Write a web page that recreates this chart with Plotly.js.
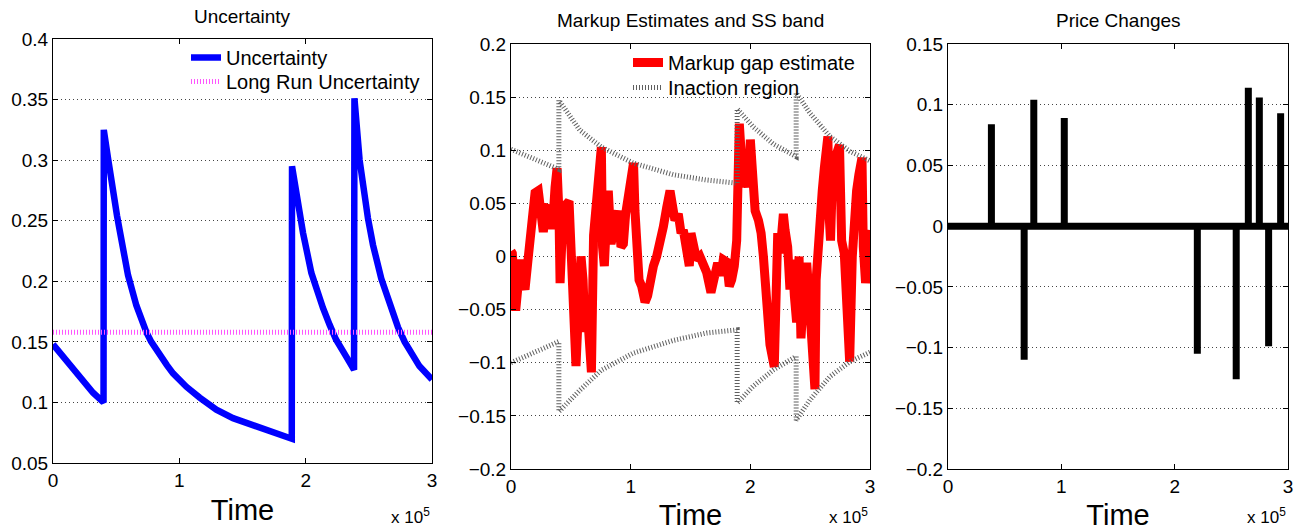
<!DOCTYPE html>
<html>
<head>
<meta charset="utf-8">
<script src="https://cdn.plot.ly/plotly-3.0.1.min.js"></script>
<style>html,body{margin:0;padding:0;background:#fff;}#chart{width:1304px;height:531px;}</style>
</head>
<body>
<div id="chart"></div>
<script>
// ---------------- data (time in units of 10^5) ----------------
const uncT = [0, 0.106, 0.211, 0.317, 0.400, 0.402, 0.438, 0.475, 0.507, 0.528, 0.567, 0.594, 0.660, 0.712, 0.739, 0.778, 0.844, 0.900, 0.950, 1.055, 1.161, 1.293, 1.425, 1.557, 1.689, 1.821, 1.890, 1.892, 1.926, 1.979, 2.045, 2.084, 2.137, 2.190, 2.240, 2.320, 2.383, 2.386, 2.427, 2.493, 2.533, 2.599, 2.652, 2.731, 2.784, 2.900, 3.0];
const uncV = [0.148, 0.134, 0.120, 0.108, 0.100, 0.325, 0.300, 0.272, 0.254, 0.242, 0.220, 0.205, 0.180, 0.165, 0.158, 0.150, 0.139, 0.131, 0.124, 0.113, 0.104, 0.094, 0.087, 0.082, 0.077, 0.0725, 0.070, 0.295, 0.272, 0.240, 0.207, 0.193, 0.178, 0.164, 0.152, 0.138, 0.127, 0.351, 0.300, 0.252, 0.230, 0.202, 0.185, 0.162, 0.150, 0.130, 0.119];
const longRunT = [0, 3];
const longRunV = [0.158, 0.158];

const markT = [0.000,0.011,0.028,0.039,0.056,0.067,0.084,0.100,0.117,0.145,0.167,0.180,0.201,0.228,0.251,0.270,0.290,0.312,0.334,0.354,0.368,0.385,0.401,0.410,0.423,0.437,0.465,0.485,0.501,0.512,0.526,0.543,0.563,0.585,0.602,0.618,0.635,0.652,0.672,0.690,0.714,0.736,0.755,0.765,0.780,0.800,0.813,0.836,0.855,0.875,0.897,0.919,0.939,0.958,0.981,1.003,1.024,1.036,1.050,1.070,1.092,1.120,1.142,1.162,1.190,1.217,1.245,1.273,1.301,1.329,1.348,1.370,1.398,1.421,1.440,1.468,1.490,1.504,1.524,1.551,1.579,1.607,1.635,1.671,1.699,1.727,1.755,1.774,1.802,1.824,1.844,1.866,1.886,1.900,1.908,1.922,1.942,1.956,1.984,2.000,2.012,2.040,2.068,2.090,2.109,2.128,2.145,2.164,2.200,2.212,2.229,2.248,2.256,2.276,2.290,2.312,2.331,2.351,2.368,2.387,2.407,2.423,2.443,2.471,2.490,2.512,2.540,2.550,2.563,2.582,2.601,2.618,2.648,2.658,2.670,2.685,2.707,2.745,2.752,2.763,2.785,2.804,2.824,2.830,2.852,2.868,2.888,2.907,2.933,2.944,2.963,2.980,3.000];
const markV = [0.005,0.003,-0.028,-0.051,-0.031,-0.006,-0.003,-0.025,-0.031,0.000,0.031,0.045,0.060,0.062,0.034,0.023,0.046,0.045,0.026,0.040,0.065,0.083,0.040,-0.025,0.009,0.046,0.049,0.052,0.009,-0.037,-0.083,-0.103,-0.052,0.000,-0.022,-0.071,-0.046,-0.083,-0.109,0.020,0.053,0.095,0.103,0.009,-0.009,0.040,0.062,0.012,0.022,0.040,0.043,0.009,0.012,0.040,0.058,0.065,0.088,0.043,0.000,-0.022,-0.028,-0.043,-0.037,-0.022,-0.009,0.000,0.012,0.028,0.046,0.062,0.049,0.034,0.040,0.022,0.025,0.009,-0.009,0.022,0.009,-0.003,0.000,-0.006,-0.015,-0.034,-0.015,-0.006,-0.018,-0.003,-0.005,-0.028,-0.022,-0.009,0.015,0.071,0.125,0.100,0.065,0.092,0.065,0.110,0.086,0.043,0.034,0.022,0.000,-0.034,-0.058,-0.083,-0.104,0.003,0.022,0.003,0.025,0.040,0.025,0.009,-0.031,-0.003,-0.037,-0.062,0.000,-0.077,-0.040,-0.006,-0.037,-0.083,-0.125,-0.022,0.009,0.049,0.062,0.083,0.113,0.040,0.015,0.071,0.092,0.105,0.040,0.015,0.003,-0.037,-0.083,-0.099,0.000,0.040,0.062,0.077,0.093,0.009,-0.025,-0.006,0.025];

const bandT  = [0, 0.212, 0.400, 0.400, 0.574, 0.755, 1.020, 1.355, 1.634, 1.890, 1.890, 2.024, 2.190, 2.383, 2.383, 2.498, 2.665, 2.832, 3.0];
const bandUp = [0.101, 0.091, 0.082, 0.147, 0.119, 0.103, 0.088, 0.077, 0.072, 0.069, 0.139, 0.122, 0.106, 0.094, 0.154, 0.135, 0.113, 0.099, 0.090];
const bandLo = [-0.100, -0.090, -0.080, -0.146, -0.126, -0.107, -0.091, -0.079, -0.072, -0.069, -0.138, -0.122, -0.107, -0.094, -0.154, -0.135, -0.113, -0.099, -0.090];

const chgT = [0.383, 0.672, 0.757, 1.026, 2.200, 2.543, 2.650, 2.747, 2.829, 2.935];
const chgV = [0.084, -0.110, 0.104, 0.089, -0.105, -0.126, 0.114, 0.106, -0.099, 0.093];

const xTickVals = [0, 1, 2, 3];
const xTickText = ['0', '1', '2', '3'];

// ---------------- build price-change path ----------------
const pcX = [0], pcY = [0];
chgT.forEach((t, i) => { pcX.push(t, t, t); pcY.push(0, chgV[i], 0); });
pcX.push(3); pcY.push(0);

const FONT = 'Liberation Sans, Arial, Helvetica, sans-serif';
const W = 1304, H = 531;
const px = v => v / W;
const py = v => 1 - v / H;
const BAND_LINE = {color: '#5f5f5f', width: 5, dash: '1px,2px'};

const traces = [
  {x: uncT, y: uncV, type: 'scatter', mode: 'lines', name: 'Uncertainty',
   line: {color: '#0000ff', width: 6.5}, xaxis: 'x', yaxis: 'y', legend: 'legend'},
  {x: longRunT, y: longRunV, type: 'scatter', mode: 'lines', name: 'Long Run Uncertainty',
   line: {color: '#ff55ff', width: 5, dash: '1px,2px'}, xaxis: 'x', yaxis: 'y', legend: 'legend4'},
  {x: markT, y: markV, type: 'scatter', mode: 'lines', name: 'Markup gap estimate',
   line: {color: '#ff0000', width: 9}, xaxis: 'x2', yaxis: 'y2', legend: 'legend2'},
  {x: bandT, y: bandUp, type: 'scatter', mode: 'lines', name: 'Inaction region', legendgroup: 'band',
   line: BAND_LINE, xaxis: 'x2', yaxis: 'y2', legend: 'legend5'},
  {x: bandT, y: bandLo, type: 'scatter', mode: 'lines', name: 'Inaction region', legendgroup: 'band', showlegend: false,
   line: BAND_LINE, xaxis: 'x2', yaxis: 'y2', legend: 'legend5'},
  {x: pcX, y: pcY, type: 'scatter', mode: 'lines', name: 'Price Changes', showlegend: false,
   line: {color: '#000000', width: 7}, xaxis: 'x3', yaxis: 'y3'}
];

function xax(dom, anchor) {
  return {domain: dom, anchor: anchor, range: [0, 3], tickvals: xTickVals, ticktext: xTickText,
    showgrid: false, zeroline: false, showline: true, linecolor: '#000', linewidth: 1, mirror: 'ticks',
    ticks: 'inside', ticklen: 5, tickcolor: '#000', tickfont: {family: FONT, size: 19, color: '#000'},
    title: {text: 'Time', font: {family: FONT, size: 29, color: '#000'}, standoff: 9}};
}
function yax(dom, anchor, range) {
  return {domain: dom, anchor: anchor, range: range, dtick: 0.05, tick0: 0,
    showgrid: true, gridcolor: '#444444', griddash: '1px,3px', gridwidth: 1,
    zeroline: false, showline: true, linecolor: '#000', linewidth: 1, mirror: 'ticks',
    ticks: 'inside', ticklen: 5, tickcolor: '#000', tickfont: {family: FONT, size: 19, color: '#000'}};
}
function leg(xl, ytop) {
  return {x: px(xl), y: py(ytop), xanchor: 'left', yanchor: 'top', bgcolor: 'rgba(0,0,0,0)',
    font: {family: FONT, size: 20, color: '#000'}, tracegroupgap: 0, itemwidth: 30};
}

const layout = {
  width: W, height: H, margin: {l: 0, r: 0, t: 0, b: 0}, paper_bgcolor: '#fff', plot_bgcolor: '#fff',
  font: {family: FONT, color: '#000'},
  xaxis: xax([px(53), px(432)], 'y'),
  yaxis: yax([py(463), py(39)], 'x', [0.05, 0.4]),
  xaxis2: xax([px(511), px(870)], 'y2'),
  yaxis2: yax([py(469), py(44)], 'x2', [-0.2, 0.2]),
  xaxis3: xax([px(948), px(1288)], 'y3'),
  yaxis3: yax([py(469), py(44)], 'x3', [-0.2, 0.15]),
  legend: leg(186, 38),
  legend4: leg(186, 62),
  legend2: leg(628, 43),
  legend5: leg(628, 68),
  annotations: [
    {text: 'Uncertainty', x: px(242), y: py(29), xref: 'paper', yref: 'paper', xanchor: 'center', yanchor: 'bottom', showarrow: false, font: {family: FONT, size: 19}},
    {text: 'Markup Estimates and SS band', x: px(690), y: py(33), xref: 'paper', yref: 'paper', xanchor: 'center', yanchor: 'bottom', showarrow: false, font: {family: FONT, size: 19}},
    {text: 'Price Changes', x: px(1118), y: py(33), xref: 'paper', yref: 'paper', xanchor: 'center', yanchor: 'bottom', showarrow: false, font: {family: FONT, size: 19}},
    {text: 'x 10<sup>5</sup>', x: px(432), y: py(529), xref: 'paper', yref: 'paper', xanchor: 'right', yanchor: 'bottom', showarrow: false, font: {family: FONT, size: 17}},
    {text: 'x 10<sup>5</sup>', x: px(870), y: py(529), xref: 'paper', yref: 'paper', xanchor: 'right', yanchor: 'bottom', showarrow: false, font: {family: FONT, size: 17}},
    {text: 'x 10<sup>5</sup>', x: px(1288), y: py(529), xref: 'paper', yref: 'paper', xanchor: 'right', yanchor: 'bottom', showarrow: false, font: {family: FONT, size: 17}}
  ],
  showlegend: true
};

Plotly.newPlot('chart', traces, layout, {staticPlot: true, displayModeBar: false});
</script>
</body>
</html>
